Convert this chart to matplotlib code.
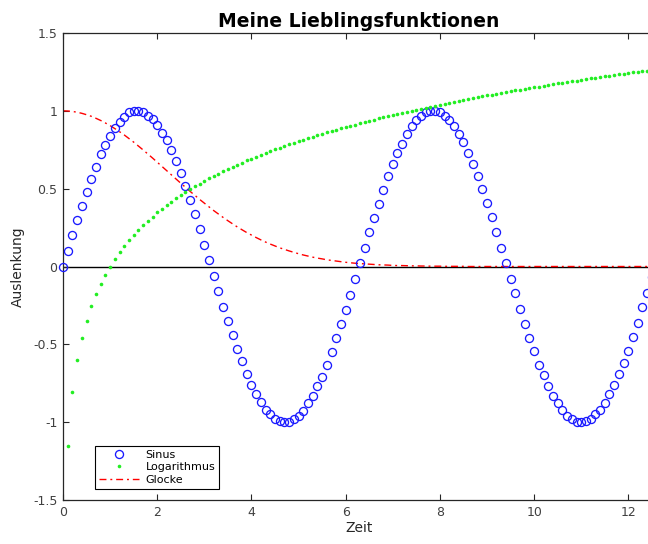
import matplotlib
matplotlib.use("Agg")
import matplotlib.pyplot as plt
from matplotlib.ticker import FuncFormatter

plt.rcParams["font.family"] = ["DejaVu Sans"]
plt.rcParams["axes.unicode_minus"] = False

# Zeitachse (Schrittweite 0.1)
zeit = [
    0.0, 0.1, 0.2, 0.3, 0.4, 0.5, 0.6, 0.7, 0.8, 0.9,
    1.0, 1.1, 1.2, 1.3, 1.4, 1.5, 1.6, 1.7, 1.8, 1.9,
    2.0, 2.1, 2.2, 2.3, 2.4, 2.5, 2.6, 2.7, 2.8, 2.9,
    3.0, 3.1, 3.2, 3.3, 3.4, 3.5, 3.6, 3.7, 3.8, 3.9,
    4.0, 4.1, 4.2, 4.3, 4.4, 4.5, 4.6, 4.7, 4.8, 4.9,
    5.0, 5.1, 5.2, 5.3, 5.4, 5.5, 5.6, 5.7, 5.8, 5.9,
    6.0, 6.1, 6.2, 6.3, 6.4, 6.5, 6.6, 6.7, 6.8, 6.9,
    7.0, 7.1, 7.2, 7.3, 7.4, 7.5, 7.6, 7.7, 7.8, 7.9,
    8.0, 8.1, 8.2, 8.3, 8.4, 8.5, 8.6, 8.7, 8.8, 8.9,
    9.0, 9.1, 9.2, 9.3, 9.4, 9.5, 9.6, 9.7, 9.8, 9.9,
    10.0, 10.1, 10.2, 10.3, 10.4, 10.5, 10.6, 10.7, 10.8, 10.9,
    11.0, 11.1, 11.2, 11.3, 11.4, 11.5, 11.6, 11.7, 11.8, 11.9,
    12.0, 12.1, 12.2, 12.3, 12.4, 12.5,
]

sinus = [
    0.00, 0.10, 0.20, 0.30, 0.39, 0.48, 0.56, 0.64, 0.72, 0.78,
    0.84, 0.89, 0.93, 0.96, 0.99, 1.00, 1.00, 0.99, 0.97, 0.95,
    0.91, 0.86, 0.81, 0.75, 0.68, 0.60, 0.52, 0.43, 0.34, 0.24,
    0.14, 0.04, -0.06, -0.16, -0.26, -0.35, -0.44, -0.53, -0.61, -0.69,
    -0.76, -0.82, -0.87, -0.92, -0.95, -0.98, -0.99, -1.00, -1.00, -0.98,
    -0.96, -0.93, -0.88, -0.83, -0.77, -0.71, -0.63, -0.55, -0.46, -0.37,
    -0.28, -0.18, -0.08, 0.02, 0.12, 0.22, 0.31, 0.40, 0.49, 0.58,
    0.66, 0.73, 0.79, 0.85, 0.90, 0.94, 0.97, 0.99, 1.00, 1.00,
    0.99, 0.97, 0.94, 0.90, 0.85, 0.80, 0.73, 0.66, 0.58, 0.50,
    0.41, 0.32, 0.22, 0.12, 0.02, -0.08, -0.17, -0.27, -0.37, -0.46,
    -0.54, -0.63, -0.70, -0.77, -0.83, -0.88, -0.92, -0.96, -0.98, -1.00,
    -1.00, -0.99, -0.98, -0.95, -0.92, -0.88, -0.82, -0.76, -0.69, -0.62,
    -0.54, -0.45, -0.36, -0.26, -0.17, -0.07,
]

# Logarithmus ab t = 0.1
zeit_log = zeit[1:]
logarithmus = [
    -1.151, -0.805, -0.602, -0.458, -0.347, -0.255, -0.178, -0.112, -0.053,
    0.000, 0.048, 0.091, 0.131, 0.168, 0.203, 0.235, 0.265, 0.294, 0.321,
    0.347, 0.371, 0.394, 0.416, 0.438, 0.458, 0.478, 0.497, 0.515, 0.532,
    0.549, 0.566, 0.582, 0.597, 0.612, 0.626, 0.640, 0.654, 0.668, 0.681,
    0.693, 0.706, 0.718, 0.729, 0.741, 0.752, 0.763, 0.774, 0.784, 0.795,
    0.805, 0.815, 0.824, 0.834, 0.843, 0.852, 0.861, 0.870, 0.879, 0.888,
    0.896, 0.904, 0.912, 0.920, 0.928, 0.936, 0.944, 0.951, 0.958, 0.966,
    0.973, 0.980, 0.987, 0.994, 1.001, 1.007, 1.014, 1.021, 1.027, 1.033,
    1.040, 1.046, 1.052, 1.058, 1.064, 1.070, 1.076, 1.082, 1.087, 1.093,
    1.099, 1.104, 1.110, 1.115, 1.120, 1.126, 1.131, 1.136, 1.141, 1.146,
    1.151, 1.156, 1.161, 1.166, 1.171, 1.176, 1.180, 1.185, 1.190, 1.194,
    1.199, 1.203, 1.208, 1.212, 1.217, 1.221, 1.225, 1.230, 1.234, 1.238,
    1.242, 1.247, 1.251, 1.255, 1.259, 1.263,
]

glocke = [
    1.000, 0.999, 0.996, 0.991, 0.984, 0.975, 0.965, 0.952, 0.938, 0.922,
    0.905, 0.886, 0.866, 0.845, 0.822, 0.799, 0.774, 0.749, 0.723, 0.697,
    0.670, 0.643, 0.616, 0.589, 0.562, 0.535, 0.509, 0.482, 0.457, 0.431,
    0.407, 0.383, 0.359, 0.337, 0.315, 0.294, 0.274, 0.254, 0.236, 0.218,
    0.202, 0.186, 0.171, 0.157, 0.144, 0.132, 0.120, 0.110, 0.100, 0.091,
    0.082, 0.074, 0.067, 0.060, 0.054, 0.049, 0.043, 0.039, 0.035, 0.031,
    0.027, 0.024, 0.021, 0.019, 0.017, 0.015, 0.013, 0.011, 0.010, 0.009,
    0.007, 0.006, 0.006, 0.005, 0.004, 0.004, 0.003, 0.003, 0.002, 0.002,
    0.002, 0.001, 0.001, 0.001, 0.001, 0.001, 0.000, 0.000, 0.000, 0.000,
    0.000, 0.000, 0.000, 0.000, 0.000, 0.000, 0.000, 0.000, 0.000, 0.000,
    0.000, 0.000, 0.000, 0.000, 0.000, 0.000, 0.000, 0.000, 0.000, 0.000,
    0.000, 0.000, 0.000, 0.000, 0.000, 0.000, 0.000, 0.000, 0.000, 0.000,
    0.000, 0.000, 0.000, 0.000, 0.000, 0.000,
]

x_ticks = [0, 2, 4, 6, 8, 10, 12]
y_ticks = [-1.5, -1, -0.5, 0, 0.5, 1, 1.5]
x_max = 12.566

W, H = 648, 544
fig = plt.figure(figsize=(W / 100, H / 100), dpi=100)
ax = fig.add_axes([63 / W, 44 / H, 592 / W, 467 / H])

axis_col = "#262626"
ax.axhline(0, color="black", linewidth=1.0, zorder=1)
ax.plot(zeit, sinus, linestyle="none", marker="o", markersize=5.8,
        markerfacecolor="none", markeredgecolor="#1a1aff", markeredgewidth=0.95,
        label="Sinus", clip_on=False, zorder=3)
ax.plot(zeit_log, logarithmus, linestyle="none", marker="o", markersize=2.6,
        markerfacecolor="#22ee22", markeredgecolor="none",
        label="Logarithmus", zorder=3)
ax.plot(zeit, glocke, linestyle="-.", color="red", linewidth=1.0,
        dashes=(5, 2.8, 1.4, 2.8), label="Glocke", zorder=2)

ax.set_xlim(0, x_max)
ax.set_ylim(-1.5, 1.5)
ax.set_xticks(x_ticks)
ax.set_yticks(y_ticks)
fmt = FuncFormatter(lambda v, p: "%g" % v)
ax.xaxis.set_major_formatter(fmt)
ax.yaxis.set_major_formatter(fmt)
ax.tick_params(direction="in", length=4, width=0.8, colors=axis_col,
               labelsize=9, top=True, right=True, pad=4)
ax.tick_params(labelcolor="#404040")
for s in ax.spines.values():
    s.set_color(axis_col)
    s.set_linewidth(0.9)

ax.set_title("Meine Lieblingsfunktionen", fontsize=13.5, fontweight="bold", pad=4)
ax.set_xlabel("Zeit", fontsize=10, color=axis_col, labelpad=2)
ax.set_ylabel("Auslenkung", fontsize=10, color=axis_col, labelpad=6)

leg = ax.legend(loc="lower left", bbox_to_anchor=(0.054, 0.0236),
                borderaxespad=0, fontsize=8, fancybox=False, framealpha=1,
                edgecolor="black", handlelength=3.6, handletextpad=0.6,
                borderpad=0.35, labelspacing=0.25, numpoints=1)
leg.get_frame().set_linewidth(0.8)

fig.savefig("out.png", dpi=100)
